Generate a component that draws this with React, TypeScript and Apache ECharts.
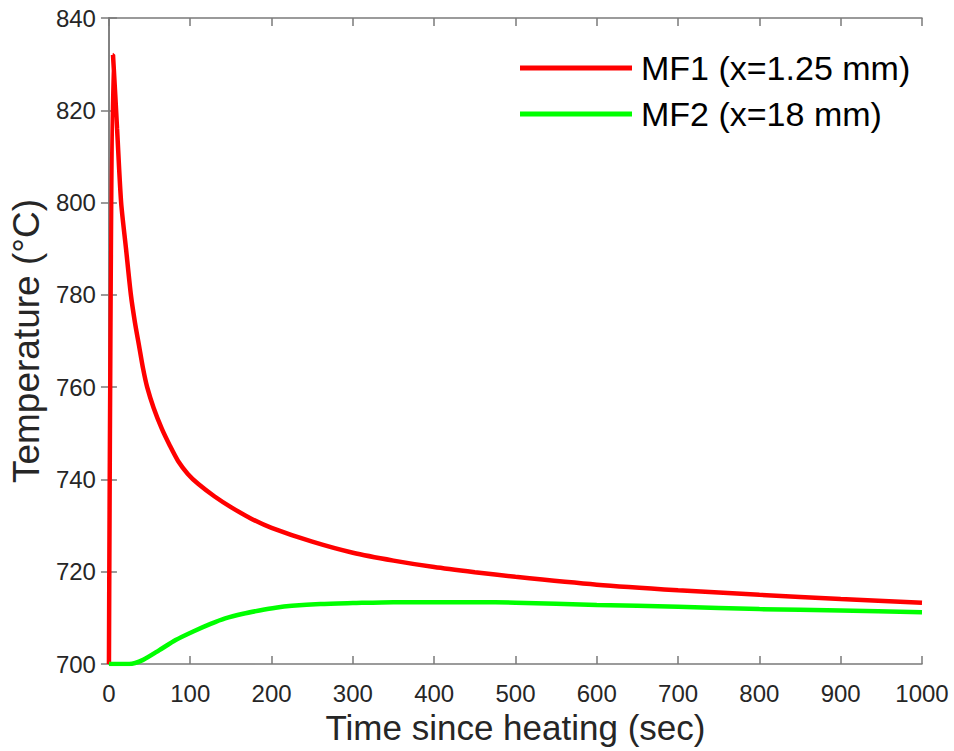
import React, { useEffect, useRef } from "react";
import * as echarts from "echarts";

const seriesNames = ["MF1 (x=1.25 mm)", "MF2 (x=18 mm)"];
const mf1Time = [0, 5, 10, 15, 21, 27, 32, 37, 42, 47, 55, 65, 75, 85, 97, 110, 130, 150, 175, 200, 250, 300, 350, 400, 450, 500, 600, 700, 800, 900, 1000];
const mf1Temp = [700, 832, 816, 800, 790, 780, 774, 769, 764, 760, 755.5, 751, 747.3, 744, 741.2, 739, 736.3, 734, 731.5, 729.5, 726.5, 724.1, 722.4, 721.0, 719.9, 718.9, 717.2, 716.0, 715.0, 714.1, 713.3];
const mf2Time = [0, 10, 25, 42, 62, 82, 103, 125, 143, 165, 185, 205, 225, 260, 300, 350, 400, 450, 500, 600, 700, 800, 900, 1000];
const mf2Temp = [700, 700, 700, 700.9, 703, 705.2, 707, 708.7, 709.9, 710.9, 711.6, 712.2, 712.6, 713.0, 713.2, 713.4, 713.4, 713.4, 713.3, 712.8, 712.4, 711.9, 711.6, 711.2];
const xTicks = { min: 0, max: 1000, interval: 100 };
const yTicks = { min: 700, max: 840, interval: 20 };

const FONT = "'Liberation Sans', Arial, Helvetica, sans-serif";
const AXIS_COLOR = "#7a7a7a";
const TEXT_COLOR = "#262626";

export default function App() {
  const ref = useRef<HTMLDivElement>(null);
  useEffect(() => {
    if (!ref.current) return;
    const chart = echarts.init(ref.current, null, { renderer: "svg" });
    const axisLine = { show: true, lineStyle: { color: AXIS_COLOR, width: 1.5 } };
    const axisTick = { show: true, inside: true, length: 8, lineStyle: { color: AXIS_COLOR, width: 1.5 } };
    const lineSeries = (name: string, xs: number[], ys: number[], color: string) => ({
      name,
      type: "line",
      xAxisIndex: 0,
      yAxisIndex: 0,
      showSymbol: false,
      symbol: "none",
      smooth: 0.25,
      lineStyle: { color, width: 4.5 },
      itemStyle: { color },
      data: xs.map((t, i) => [t, ys[i]]),
    });
    chart.setOption({
      animation: false,
      backgroundColor: "#ffffff",
      grid: { left: 106, top: 18, right: 32, bottom: 87, containLabel: false },
      legend: {
        orient: "vertical",
        left: 515,
        top: 46,
        itemWidth: 112,
        itemHeight: 5,
        itemGap: 12,
        icon: "rect",
        textStyle: { fontFamily: FONT, fontSize: 34, color: "#000", lineHeight: 34, padding: [0, 0, 0, 4] },
        data: seriesNames,
      },
      xAxis: [
        {
          type: "value",
          ...xTicks,
          position: "bottom",
          name: "Time since heating (sec)",
          nameLocation: "middle",
          nameGap: 45,
          nameTextStyle: { fontFamily: FONT, fontSize: 35, color: TEXT_COLOR },
          axisLine,
          axisTick,
          splitLine: { show: false },
          axisLabel: { fontFamily: FONT, fontSize: 24, color: TEXT_COLOR, margin: 17, formatter: (v: number) => String(v) },
        },
        {
          type: "value",
          ...xTicks,
          position: "top",
          axisLine,
          axisTick,
          splitLine: { show: false },
          axisLabel: { show: false },
        },
      ],
      yAxis: [
        {
          type: "value",
          ...yTicks,
          position: "left",
          name: "Temperature (°C)",
          nameLocation: "middle",
          nameGap: 60,
          nameTextStyle: { fontFamily: FONT, fontSize: 37, color: TEXT_COLOR },
          axisLine,
          axisTick,
          splitLine: { show: false },
          axisLabel: { fontFamily: FONT, fontSize: 24, color: TEXT_COLOR, margin: 13 },
        },
        {
          type: "value",
          ...yTicks,
          position: "right",
          axisLine,
          axisTick,
          splitLine: { show: false },
          axisLabel: { show: false },
        },
      ],
      series: [
        lineSeries(seriesNames[0], mf1Time, mf1Temp, "#ff0000"),
        lineSeries(seriesNames[1], mf2Time, mf2Temp, "#00ff00"),
      ],
    });
    return () => chart.dispose();
  }, []);
  return <div ref={ref} style={{ width: 954, height: 751, position: "absolute", left: 0, top: 0 }} />;
}
